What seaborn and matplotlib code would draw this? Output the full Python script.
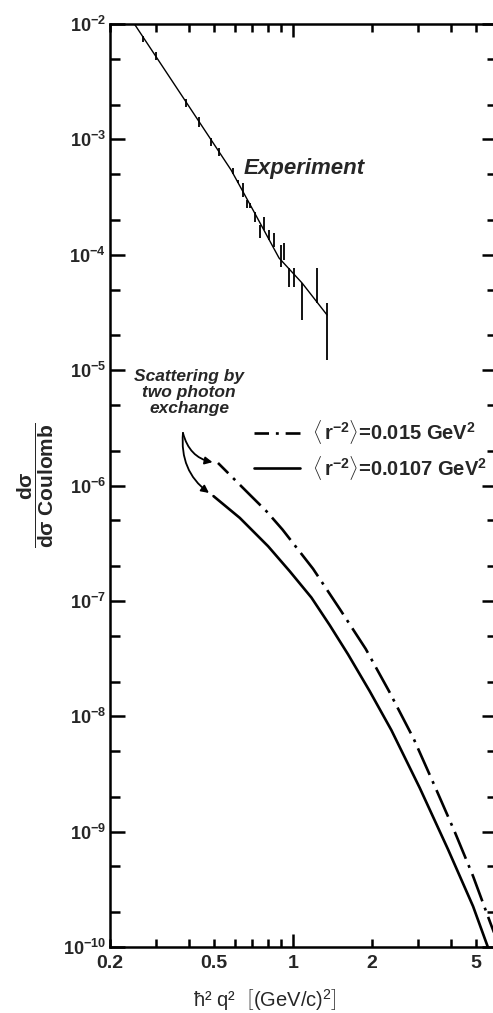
import matplotlib
matplotlib.use("Agg")
import matplotlib.pyplot as plt
import matplotlib.ticker as mtick
import seaborn as sns

# Experiment: momentum transfer, error bar low/high ends
exp_q2 = [0.268, 0.300, 0.390, 0.438, 0.486, 0.522, 0.590, 0.617, 0.644,
          0.668, 0.685, 0.716, 0.748, 0.775, 0.810, 0.846, 0.900, 0.924, 0.965,
          1.009, 1.082, 1.235, 1.348]
exp_lo = [6.98e-3, 4.88e-3, 1.91e-3, 1.28e-3, 8.77e-4, 7.18e-4, 5.01e-4, 4.19e-4, 3.17e-4,
          2.55e-4, 2.55e-4, 1.92e-4, 1.40e-4, 1.64e-4, 1.34e-4, 1.17e-4, 7.84e-5, 9.02e-5, 5.26e-5,
          5.26e-5, 2.72e-5, 3.82e-5, 1.22e-5]
exp_hi = [7.87e-3, 5.72e-3, 2.24e-3, 1.56e-3, 1.03e-3, 8.42e-4, 5.65e-4, 4.45e-4, 4.19e-4,
          2.99e-4, 2.81e-4, 2.35e-4, 1.81e-4, 2.13e-4, 1.64e-4, 1.55e-4, 1.22e-4, 1.26e-4, 7.69e-5,
          7.69e-5, 5.70e-5, 7.69e-5, 3.82e-5]
# line drawn through the experiment
fit_q2 = [0.248, 0.580, 0.710, 0.884, 1.082, 1.348]
fit_ratio = [1.0e-2, 5.43e-4, 2.35e-4, 9.38e-5, 5.70e-5, 3.01e-5]

# two photon exchange, <r^-2> = 0.015 GeV^2
dd_q2 = [0.517, 0.683, 0.791, 0.911, 1.192, 1.507, 1.894, 2.325, 2.888, 3.483, 4.141, 4.865,
         5.664, 6.1]
dd_ratio = [1.57e-6, 8.35e-7, 6.0e-7, 4.16e-7, 1.90e-7, 8.53e-8, 3.84e-8, 1.65e-8, 6.38e-9,
            2.45e-9, 9.98e-10, 4.12e-10, 1.62e-10, 1.04e-10]

# two photon exchange, <r^-2> = 0.0107 GeV^2
sol_q2 = [0.497, 0.626, 0.803, 0.971, 1.175, 1.38, 1.622, 1.962, 2.373, 3.044, 3.905, 4.864,
          5.55, 5.9]
sol_ratio = [8.1e-7, 5.25e-7, 2.98e-7, 1.81e-7, 1.07e-7, 6.17e-8, 3.44e-8, 1.65e-8, 7.59e-9,
             2.40e-9, 7.02e-10, 2.26e-10, 9.9e-11, 6.0e-11]

legend_labels = [r"$\langle\,\mathbf{r^{-2}}\rangle$=0.015 GeV$^{\mathbf{2}}$",
                 r"$\langle\,\mathbf{r^{-2}}\rangle$=0.0107 GeV$^{\mathbf{2}}$"]
x_minor = [0.2, 0.3, 0.4, 0.5, 0.6, 0.7, 0.8, 0.9, 2, 3, 4, 5]
x_minor_labels = ["0.2", "", "", "0.5", "", "", "", "", "2", "", "", "5"]
y_decades = [-10, -9, -8, -7, -6, -5, -4, -3, -2]

sns.set_theme(style="ticks")
plt.rcParams["font.family"] = ["Liberation Sans", "DejaVu Sans"]
plt.rcParams["font.weight"] = "bold"
plt.rcParams["mathtext.fontset"] = "custom"
plt.rcParams["mathtext.rm"] = "Liberation Sans:weight=normal"
plt.rcParams["mathtext.bf"] = "Liberation Sans:weight=bold"
plt.rcParams["mathtext.it"] = "Liberation Sans:style=italic:weight=normal"
plt.rcParams["mathtext.default"] = "bf"

fig = plt.figure(figsize=(4.93, 10.13), dpi=100)
ax = fig.add_axes([0.223, 0.065, 0.785, 0.9113])

# experiment line + vertical error bars
sns.lineplot(x=fit_q2, y=fit_ratio, ax=ax, color="black", lw=1.0)
ax.vlines(exp_q2, exp_lo, exp_hi, color="black", lw=1.3)

# theory curves
sns.lineplot(x=dd_q2, y=dd_ratio, ax=ax, color="black", lw=1.9,
             linestyle=(5.5, (11, 2.6, 1.1, 2.6)), label=legend_labels[0],
             solid_joinstyle="round", dash_joinstyle="round")
sns.lineplot(x=sol_q2, y=sol_ratio, ax=ax, color="black", lw=1.9,
             label=legend_labels[1], solid_joinstyle="round")

ax.set(xscale="log", yscale="log", xlim=(0.2, 6.0), ylim=(1e-10, 1e-2))

for s in ax.spines.values():
    s.set_linewidth(1.8)
    s.set_color("black")

# x ticks: only 1 is a long tick
ax.set_xticks([1])
ax.set_xticklabels(["1"])
ax.set_xticks(x_minor, labels=x_minor_labels, minor=True)
ax.tick_params(axis="x", which="major", direction="in", length=9.5, width=1.8,
               top=True, labelsize=14, pad=6, color="black")
ax.tick_params(axis="x", which="minor", direction="in", length=5.5, width=1.8,
               top=True, labelsize=14, pad=6, color="black")

ax.set_yticks([10.0 ** k for k in y_decades])
ax.set_yticklabels([r"$\mathbf{10^{%d}}$" % k for k in y_decades])
ax.yaxis.set_minor_locator(mtick.LogLocator(base=10, subs=(2, 5), numticks=20))
ax.yaxis.set_minor_formatter(mtick.NullFormatter())
ax.tick_params(axis="y", which="major", direction="in", length=11, width=1.8,
               right=True, labelsize=13, pad=3, color="black")
ax.tick_params(axis="y", which="minor", direction="in", length=7, width=1.8,
               right=True, color="black")
for lbl in ax.get_xticklabels(which="both"):
    lbl.set_fontweight("bold")

ax.set_xlabel("ħ² q²  " + r"$\mathrm{\left[(GeV/c)^2\right]}$",
              fontsize=14.5, fontweight="normal")
ax.xaxis.set_label_coords(0.40, -0.043)
ax.set_ylabel(r"$\dfrac{d\sigma}{d\sigma\ Coulomb}$", fontsize=15)
ax.yaxis.set_label_coords(-0.14, 0.50)

ax.text(0.345, 0.844, "Experiment", transform=ax.transAxes, fontsize=16,
        fontweight="bold", style="italic", va="center", ha="left")
ax.text(0.205, 0.601, "Scattering by\ntwo photon\nexchange", transform=ax.transAxes,
        fontsize=12.5, fontweight="bold", style="italic", va="center", ha="center",
        linespacing=1.1)

arrow_start = (0.38, 2.86e-6)
for tip, rad in [((dd_q2[0], dd_ratio[0]), 0.35), ((sol_q2[0], sol_ratio[0]), 0.3)]:
    ax.annotate("", xy=tip, xytext=arrow_start,
                arrowprops=dict(arrowstyle="-|>", color="black", lw=1.3,
                                mutation_scale=11, shrinkA=0, shrinkB=4,
                                connectionstyle=f"arc3,rad={rad}"))

leg = ax.legend(loc="upper left", bbox_to_anchor=(0.371, 0.5727), frameon=False,
                fontsize=14.5, handlelength=2.3, handletextpad=0.6, labelspacing=0.35,
                borderpad=0, borderaxespad=0)

fig.savefig("out.png", dpi=100)
